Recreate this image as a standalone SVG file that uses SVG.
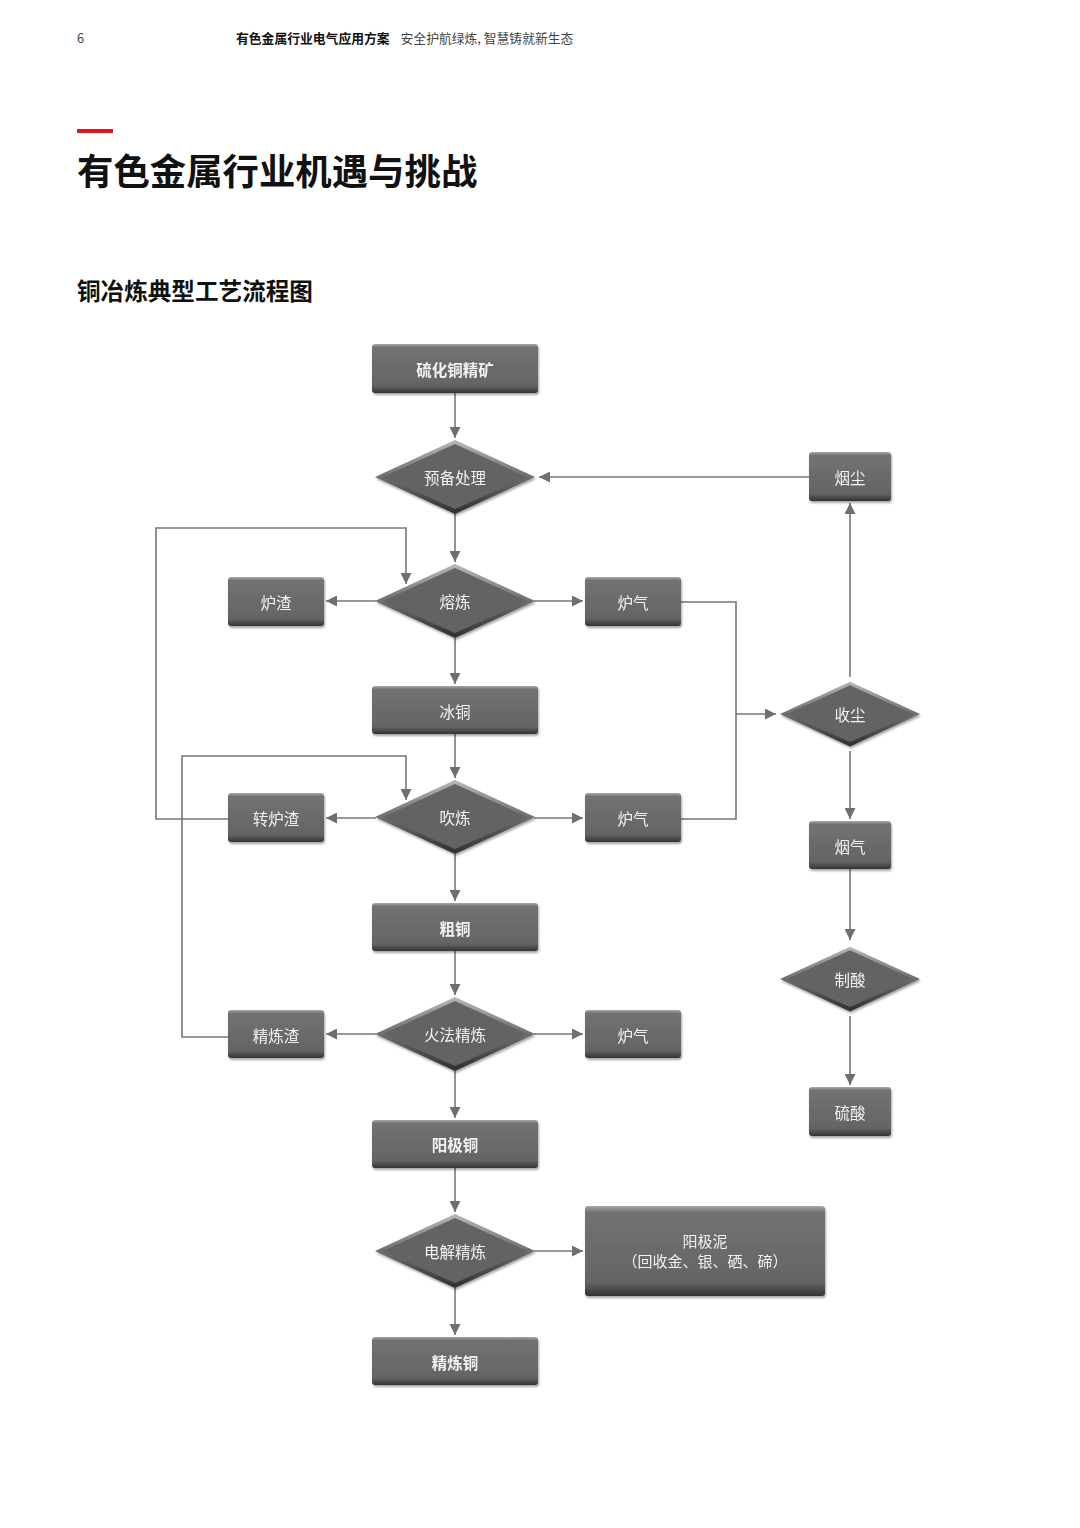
<svg xmlns="http://www.w3.org/2000/svg" width="1080" height="1528" viewBox="0 0 1080 1528">
<style>
.hdr{font-family:"Noto Sans CJK SC","Noto Sans",sans-serif;font-size:12.8px;fill:#444}
.hb{font-weight:bold;fill:#111}
.t{font-family:"Noto Sans CJK SC","Noto Sans",sans-serif;font-weight:bold;fill:#111}
.lbl{font-family:"Noto Sans CJK SC","Noto Sans",sans-serif;font-size:15.5px;fill:#f2f2f2;text-anchor:middle;dominant-baseline:central}
.sm{font-size:15px}
.b{font-weight:bold}
.c{fill:none;stroke:#777;stroke-width:1.6}
</style>
<defs>
<linearGradient id="gr" x1="0" y1="0" x2="0" y2="1">
<stop offset="0" stop-color="#a8a8a8"/>
<stop offset="0.07" stop-color="#727272"/>
<stop offset="0.85" stop-color="#646464"/>
<stop offset="1" stop-color="#333"/>
</linearGradient>
<linearGradient id="gd" x1="0" y1="0" x2="0" y2="1">
<stop offset="0" stop-color="#b8b8b8"/>
<stop offset="0.5" stop-color="#6e6e6e"/>
<stop offset="1" stop-color="#2e2e2e"/>
</linearGradient>
<filter id="sh" x="-10%" y="-10%" width="120%" height="130%">
<feDropShadow dx="1" dy="2" stdDeviation="1.2" flood-color="#000" flood-opacity="0.35"/>
</filter>
<marker id="ar" viewBox="0 0 10 10" refX="10" refY="5" markerWidth="11" markerHeight="11" markerUnits="userSpaceOnUse" orient="auto">
<path d="M0,0 L10,5 L0,10 z" fill="#6f6f6f"/>
</marker>
<symbol id="dm" viewBox="0 0 160 74" overflow="visible">
<path d="M0,37 L80,0 L160,37 L80,74 z" fill="url(#gd)"/>
<path d="M8,37 L80,4 L152,37 L80,69 z" fill="#646464"/>
</symbol>
</defs>
<rect width="1080" height="1528" fill="#fff"/>
<text x="77" y="43" class="hdr">6</text>
<text x="236" y="43" class="hdr"><tspan class="hb">有色金属行业电气应用方案</tspan><tspan dx="11">安全护航绿炼, 智慧铸就新生态</tspan></text>
<rect x="77" y="129" width="36" height="4" fill="#e0141e"/>
<text x="77" y="185" class="t" font-size="36.4">有色金属行业机遇与挑战</text>
<text x="77" y="300" class="t" font-size="23.6">铜冶炼典型工艺流程图</text>

<g id="connectors">
<line class="c" x1="455" y1="393" x2="455" y2="438" marker-end="url(#ar)"/>
<line class="c" x1="809" y1="477" x2="539" y2="477" marker-end="url(#ar)"/>
<line class="c" x1="455" y1="514" x2="455" y2="562" marker-end="url(#ar)"/>
<polyline class="c" points="228,819 156,819 156,528 406,528 406,584" marker-end="url(#ar)"/>
<line class="c" x1="376" y1="601" x2="326" y2="601" marker-end="url(#ar)"/>
<line class="c" x1="534" y1="601" x2="583" y2="601" marker-end="url(#ar)"/>
<line class="c" x1="455" y1="638" x2="455" y2="684" marker-end="url(#ar)"/>
<polyline class="c" points="681,602 736,602 736,819 681,819"/>
<line class="c" x1="736" y1="714" x2="776" y2="714" marker-end="url(#ar)"/>
<line class="c" x1="850" y1="677" x2="850" y2="503" marker-end="url(#ar)"/>
<line class="c" x1="850" y1="751" x2="850" y2="819" marker-end="url(#ar)"/>
<line class="c" x1="850" y1="869" x2="850" y2="940" marker-end="url(#ar)"/>
<line class="c" x1="850" y1="1016" x2="850" y2="1085" marker-end="url(#ar)"/>
<line class="c" x1="455" y1="734" x2="455" y2="778" marker-end="url(#ar)"/>
<polyline class="c" points="228,1037 182,1037 182,756 406,756 406,800" marker-end="url(#ar)"/>
<line class="c" x1="376" y1="818" x2="326" y2="818" marker-end="url(#ar)"/>
<line class="c" x1="534" y1="818" x2="583" y2="818" marker-end="url(#ar)"/>
<line class="c" x1="455" y1="854" x2="455" y2="901" marker-end="url(#ar)"/>
<line class="c" x1="455" y1="951" x2="455" y2="995" marker-end="url(#ar)"/>
<line class="c" x1="376" y1="1034" x2="326" y2="1034" marker-end="url(#ar)"/>
<line class="c" x1="534" y1="1034" x2="583" y2="1034" marker-end="url(#ar)"/>
<line class="c" x1="455" y1="1071" x2="455" y2="1118" marker-end="url(#ar)"/>
<line class="c" x1="455" y1="1168" x2="455" y2="1212" marker-end="url(#ar)"/>
<line class="c" x1="534" y1="1251" x2="583" y2="1251" marker-end="url(#ar)"/>
<line class="c" x1="455" y1="1288" x2="455" y2="1335" marker-end="url(#ar)"/>
</g>

<g id="n-ore" filter="url(#sh)"><rect x="372" y="344" width="166" height="49" rx="3" fill="url(#gr)"/><text x="455" y="369" class="lbl b">硫化铜精矿</text></g>
<g id="n-prep" filter="url(#sh)"><use href="#dm" x="375" y="440" width="160" height="74"/><text x="455" y="477" class="lbl">预备处理</text></g>
<g id="n-dust" filter="url(#sh)"><rect x="809" y="452" width="82" height="49" rx="3" fill="url(#gr)"/><text x="850" y="477" class="lbl">烟尘</text></g>
<g id="n-smelt" filter="url(#sh)"><use href="#dm" x="375" y="564" width="160" height="74"/><text x="455" y="601" class="lbl">熔炼</text></g>
<g id="n-slag1" filter="url(#sh)"><rect x="228" y="577" width="96" height="49" rx="3" fill="url(#gr)"/><text x="276" y="602" class="lbl">炉渣</text></g>
<g id="n-gas1" filter="url(#sh)"><rect x="585" y="577" width="96" height="49" rx="3" fill="url(#gr)"/><text x="633" y="602" class="lbl">炉气</text></g>
<g id="n-matte" filter="url(#sh)"><rect x="372" y="686" width="166" height="48" rx="3" fill="url(#gr)"/><text x="455" y="711" class="lbl">冰铜</text></g>
<g id="n-collect" filter="url(#sh)"><use href="#dm" x="780" y="677" width="140" height="74"/><text x="850" y="714" class="lbl">收尘</text></g>
<g id="n-blow" filter="url(#sh)"><use href="#dm" x="375" y="780" width="160" height="74"/><text x="455" y="817" class="lbl">吹炼</text></g>
<g id="n-slag2" filter="url(#sh)"><rect x="228" y="793" width="96" height="49" rx="3" fill="url(#gr)"/><text x="276" y="818" class="lbl">转炉渣</text></g>
<g id="n-gas2" filter="url(#sh)"><rect x="585" y="793" width="96" height="49" rx="3" fill="url(#gr)"/><text x="633" y="818" class="lbl">炉气</text></g>
<g id="n-flue" filter="url(#sh)"><rect x="809" y="821" width="82" height="48" rx="3" fill="url(#gr)"/><text x="850" y="846" class="lbl">烟气</text></g>
<g id="n-blister" filter="url(#sh)"><rect x="372" y="903" width="166" height="48" rx="3" fill="url(#gr)"/><text x="455" y="928" class="lbl b">粗铜</text></g>
<g id="n-acidmk" filter="url(#sh)"><use href="#dm" x="780" y="942" width="140" height="74"/><text x="850" y="979" class="lbl">制酸</text></g>
<g id="n-fire" filter="url(#sh)"><use href="#dm" x="375" y="997" width="160" height="74"/><text x="455" y="1034" class="lbl">火法精炼</text></g>
<g id="n-slag3" filter="url(#sh)"><rect x="228" y="1010" width="96" height="48" rx="3" fill="url(#gr)"/><text x="276" y="1035" class="lbl">精炼渣</text></g>
<g id="n-gas3" filter="url(#sh)"><rect x="585" y="1010" width="96" height="48" rx="3" fill="url(#gr)"/><text x="633" y="1035" class="lbl">炉气</text></g>
<g id="n-acid" filter="url(#sh)"><rect x="809" y="1087" width="82" height="49" rx="3" fill="url(#gr)"/><text x="850" y="1112" class="lbl">硫酸</text></g>
<g id="n-anode" filter="url(#sh)"><rect x="372" y="1120" width="166" height="48" rx="3" fill="url(#gr)"/><text x="455" y="1144" class="lbl b">阳极铜</text></g>
<g id="n-elec" filter="url(#sh)"><use href="#dm" x="375" y="1214" width="160" height="74"/><text x="455" y="1251" class="lbl">电解精炼</text></g>
<g id="n-slime" filter="url(#sh)"><rect x="585" y="1206" width="240" height="90" rx="3" fill="url(#gr)"/><text x="705" y="1240" class="lbl sm">阳极泥</text><text x="705" y="1260" class="lbl sm">（回收金、银、硒、碲）</text></g>
<g id="n-refined" filter="url(#sh)"><rect x="372" y="1337" width="166" height="48" rx="3" fill="url(#gr)"/><text x="455" y="1362" class="lbl b">精炼铜</text></g>
</svg>
